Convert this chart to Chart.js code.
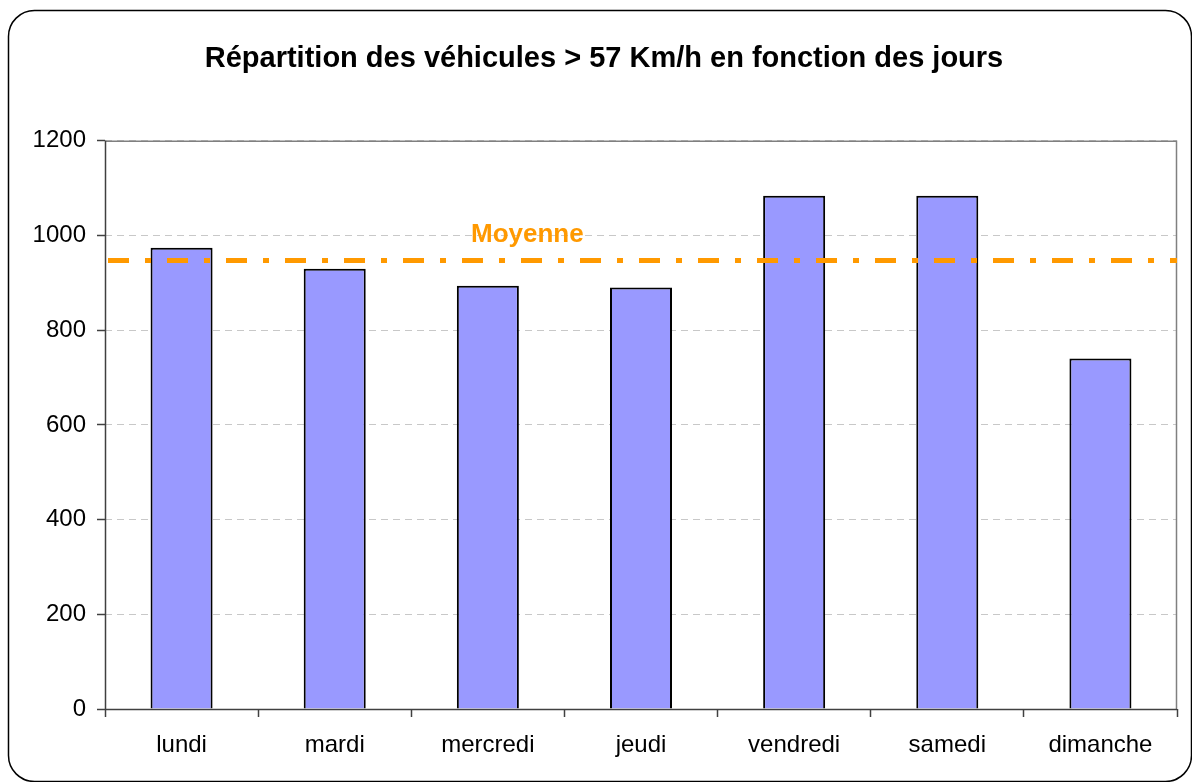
<!DOCTYPE html>
<html>
<head>
<meta charset="utf-8">
<script src="https://cdn.jsdelivr.net/npm/chart.js@4/dist/chart.umd.min.js"></script>
<style>
  html, body { margin: 0; padding: 0; background: #ffffff; }
  #wrap { width: 1192px; height: 782px; }
</style>
</head>
<body>
<div id="wrap"><canvas id="c" width="1192" height="782"></canvas></div>
<script>
const titleText = 'Répartition des véhicules > 57 Km/h en fonction des jours';
const jours = ['lundi', 'mardi', 'mercredi', 'jeudi', 'vendredi', 'samedi', 'dimanche'];
const vehicules = [974, 930, 894, 890, 1084, 1084, 740];
const moyenne = 947;
const moyenneLabel = 'Moyenne';
const yTicks = [0, 200, 400, 600, 800, 1000, 1200];

const FONT = '"Liberation Sans", Arial, sans-serif';

const framePlugin = {
  id: 'frame',
  beforeDraw(chart) {
    const ctx = chart.ctx;
    ctx.save();
    ctx.fillStyle = '#ffffff';
    ctx.fillRect(0, 0, chart.width, chart.height);
    ctx.strokeStyle = '#000000';
    ctx.lineWidth = 1.5;
    ctx.beginPath();
    ctx.roundRect(8.5, 10.5, 1183, 771, 26);
    ctx.stroke();
    ctx.restore();
  },
  beforeDatasetsDraw(chart) {
    const ctx = chart.ctx;
    const a = chart.chartArea;
    ctx.save();
    ctx.strokeStyle = '#808080';
    ctx.lineWidth = 1.5;
    ctx.beginPath();
    ctx.moveTo(a.left, a.top + 0.5);
    ctx.lineTo(a.right - 0.5, a.top + 0.5);
    ctx.lineTo(a.right - 0.5, a.bottom);
    ctx.stroke();
    ctx.strokeStyle = '#404040';
    ctx.lineWidth = 1.5;
    ctx.beginPath();
    ctx.moveTo(a.left + 0.5, a.top);
    ctx.lineTo(a.left + 0.5, a.bottom);
    ctx.stroke();
    ctx.restore();
  },
  afterDatasetsDraw(chart) {
    const ctx = chart.ctx;
    const a = chart.chartArea;
    const y = chart.scales.y.getPixelForValue(moyenne);
    ctx.save();
    ctx.strokeStyle = '#FF9900';
    ctx.lineWidth = 5;
    ctx.setLineDash([21, 16, 6, 16]);
    ctx.beginPath();
    ctx.moveTo(a.left + 3, y);
    ctx.lineTo(a.right, y);
    ctx.stroke();
    ctx.setLineDash([]);
    ctx.fillStyle = '#FF9900';
    ctx.font = 'bold 26px ' + FONT;
    ctx.textAlign = 'center';
    ctx.textBaseline = 'alphabetic';
    ctx.fillText(moyenneLabel, a.left + (a.right - a.left) * 0.394, y - 19);
    // bottom axis line
    ctx.strokeStyle = '#404040';
    ctx.lineWidth = 1.5;
    ctx.beginPath();
    ctx.moveTo(a.left, a.bottom + 0.5);
    ctx.lineTo(a.right, a.bottom + 0.5);
    ctx.stroke();
    ctx.restore();
  }
};

new Chart(document.getElementById('c'), {
  type: 'bar',
  data: {
    labels: jours,
    datasets: [{
      data: vehicules,
      backgroundColor: '#9999FF',
      borderColor: '#000000',
      borderWidth: 2,
      barPercentage: 0.405,
      categoryPercentage: 1.0
    }]
  },
  plugins: [framePlugin],
  options: {
    responsive: false,
    animation: false,
    devicePixelRatio: 1,
    layout: { padding: { left: 31, right: 15, top: 10, bottom: 10 } },
    plugins: {
      legend: { display: false },
      tooltip: { enabled: false },
      title: {
        display: true,
        text: titleText,
        color: '#000000',
        font: { family: FONT, size: 29, weight: 'bold', lineHeight: 1.2 },
        padding: { top: 32, bottom: 64 }
      }
    },
    scales: {
      x: {
        grid: {
          display: true,
          offset: true,
          drawOnChartArea: false,
          drawTicks: true,
          tickLength: 8,
          tickColor: '#404040',
          tickWidth: 1.5
        },
        border: { display: false },
        ticks: {
          color: '#000000',
          font: { family: FONT, size: 24 },
          padding: 14,
          maxRotation: 0
        },
        afterFit(scale) { scale.height = 63; }
      },
      y: {
        min: 0,
        max: 1200,
        afterBuildTicks(scale) { scale.ticks = yTicks.map(v => ({ value: v })); },
        grid: {
          display: true,
          color: '#c8c8c8',
          lineWidth: 1,
          drawTicks: true,
          tickLength: 8,
          tickColor: '#404040',
          tickWidth: 1.5,
          tickBorderDash: []
        },
        border: { display: false, dash: [7, 5] },
        ticks: {
          color: '#000000',
          font: { family: FONT, size: 24 },
          padding: 11,
          callback: (v) => String(v)
        },
        afterFit(scale) { scale.width = 74; }
      }
    }
  }
});
</script>
</body>
</html>
